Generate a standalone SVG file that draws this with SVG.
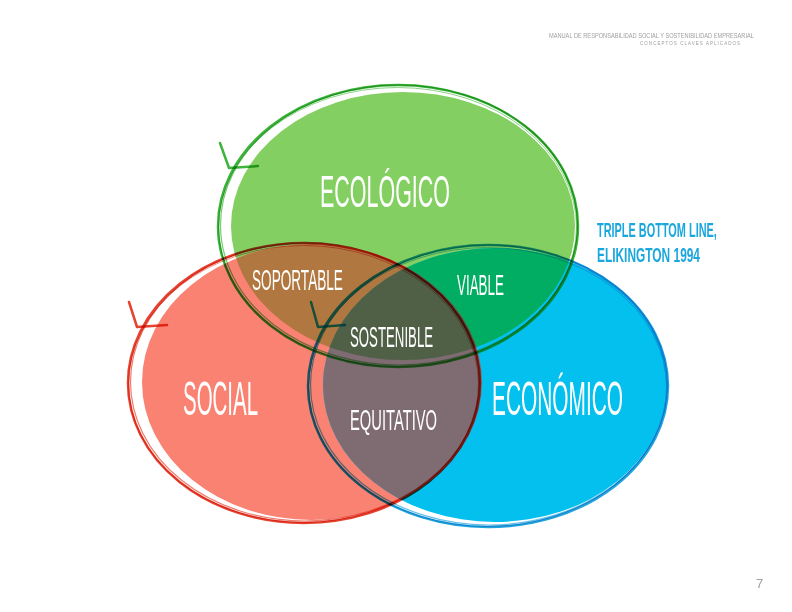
<svg xmlns="http://www.w3.org/2000/svg" width="792" height="612" viewBox="0 0 792 612">
<style>
.lbl{font-family:"Liberation Sans",Arial,sans-serif;fill:#fff;}
.brush{fill:none;mix-blend-mode:multiply;stroke-linecap:round;stroke-linejoin:round;}
.hdr{font-family:"Liberation Sans",Arial,sans-serif;fill:#a0a0a0;}
.ref{font-family:"Liberation Sans",Arial,sans-serif;fill:#1aa7dd;font-weight:bold;}
</style>
<defs>
<clipPath id="cR"><ellipse cx="312" cy="382" rx="170" ry="138"/></clipPath>
<clipPath id="cB"><ellipse cx="495" cy="385" rx="172" ry="137"/></clipPath>
</defs>
<rect width="792" height="612" fill="#fff"/>
<g id="header">
<text class="hdr" transform="translate(549,38) scale(0.704,1)" font-size="8" textLength="291" lengthAdjust="spacingAndGlyphs">MANUAL DE RESPONSABILIDAD SOCIAL Y SOSTENIBILIDAD EMPRESARIAL</text>
<text class="hdr" transform="translate(640,45) scale(0.75,1)" font-size="6" letter-spacing="1.4">CONCEPTOS CLAVES APLICADOS</text>
</g>
<g id="fills">
<ellipse cx="403" cy="226" rx="172" ry="134" fill="#83cf62"/>
<ellipse cx="312" cy="382" rx="170" ry="138" fill="#f98272"/>
<ellipse cx="495" cy="385" rx="172" ry="137" fill="#03c0ee"/>
<g clip-path="url(#cR)"><ellipse cx="403" cy="226" rx="172" ry="134" fill="#b07840"/></g>
<g clip-path="url(#cB)"><ellipse cx="403" cy="226" rx="172" ry="134" fill="#00ad62"/></g>
<g clip-path="url(#cB)"><ellipse cx="312" cy="382" rx="170" ry="138" fill="#7f6b72"/></g>
<g clip-path="url(#cB)"><g clip-path="url(#cR)"><ellipse cx="403" cy="226" rx="172" ry="134" fill="#4f6046"/></g></g>
</g>
<g id="connectors">
<g id="outline-ecologico" stroke="#3db53a">
<ellipse class="brush" cx="398" cy="226" rx="180" ry="141" stroke-width="2.5"/>
<ellipse class="brush" cx="399" cy="225" rx="178.5" ry="140" stroke-width="1.2" opacity="0.7"/>
<ellipse class="brush" cx="397.5" cy="227" rx="179" ry="139.5" stroke-width="1" opacity="0.6"/>
<polyline class="brush" points="220,143 229,168 258,166" stroke-width="2.5"/>
</g>
<g id="outline-social" stroke="#e6432f">
<ellipse class="brush" cx="304" cy="383" rx="176" ry="140" stroke-width="2.5"/>
<ellipse class="brush" cx="305" cy="382" rx="174.5" ry="139" stroke-width="1.2" opacity="0.7"/>
<ellipse class="brush" cx="303.5" cy="384" rx="175" ry="138.5" stroke-width="1" opacity="0.6"/>
<polyline class="brush" points="129,302 137,327 167,325" stroke-width="2.5"/>
</g>
<g id="outline-economico" stroke="#1fa4de">
<ellipse class="brush" cx="488" cy="386" rx="180" ry="141" stroke-width="2.5"/>
<ellipse class="brush" cx="489" cy="385" rx="178.5" ry="140" stroke-width="1.2" opacity="0.7"/>
<ellipse class="brush" cx="487.5" cy="387" rx="179" ry="139.5" stroke-width="1" opacity="0.6"/>
<polyline class="brush" points="311,302 318,327 345,325" stroke-width="2.5"/>
</g>
</g>
<g id="ecologico"><text class="lbl" transform="translate(320,207) scale(0.488,1)" font-size="44" textLength="266.5" lengthAdjust="spacingAndGlyphs">ECOLÓGICO</text></g>
<g id="social"><text class="lbl" transform="translate(183,415) scale(0.426,1)" font-size="48" textLength="176.1" lengthAdjust="spacingAndGlyphs">SOCIAL</text></g>
<g id="economico"><text class="lbl" transform="translate(492,415) scale(0.435,1)" font-size="48" textLength="301.3" lengthAdjust="spacingAndGlyphs">ECONÓMICO</text></g>
<g id="soportable"><text class="lbl" transform="translate(252,290) scale(0.447,1)" font-size="30" textLength="203.4" lengthAdjust="spacingAndGlyphs">SOPORTABLE</text></g>
<g id="viable"><text class="lbl" transform="translate(457,295) scale(0.447,1)" font-size="30" textLength="105.1" lengthAdjust="spacingAndGlyphs">VIABLE</text></g>
<g id="sostenible"><text class="lbl" transform="translate(350,347) scale(0.441,1)" font-size="30" textLength="188.4" lengthAdjust="spacingAndGlyphs">SOSTENIBLE</text></g>
<g id="equitativo"><text class="lbl" transform="translate(350,430) scale(0.479,1)" font-size="30" textLength="181.7" lengthAdjust="spacingAndGlyphs">EQUITATIVO</text></g>
<g id="reference">
<text class="ref" transform="translate(597,237) scale(0.545,1)" font-size="20" textLength="220" lengthAdjust="spacingAndGlyphs">TRIPLE BOTTOM LINE,</text>
<text class="ref" transform="translate(597,262) scale(0.594,1)" font-size="20" textLength="173.4" lengthAdjust="spacingAndGlyphs">ELIKINGTON 1994</text>
</g>
<g id="page"><text class="hdr" x="756" y="588" font-size="13" fill="#888">7</text></g>
</svg>
